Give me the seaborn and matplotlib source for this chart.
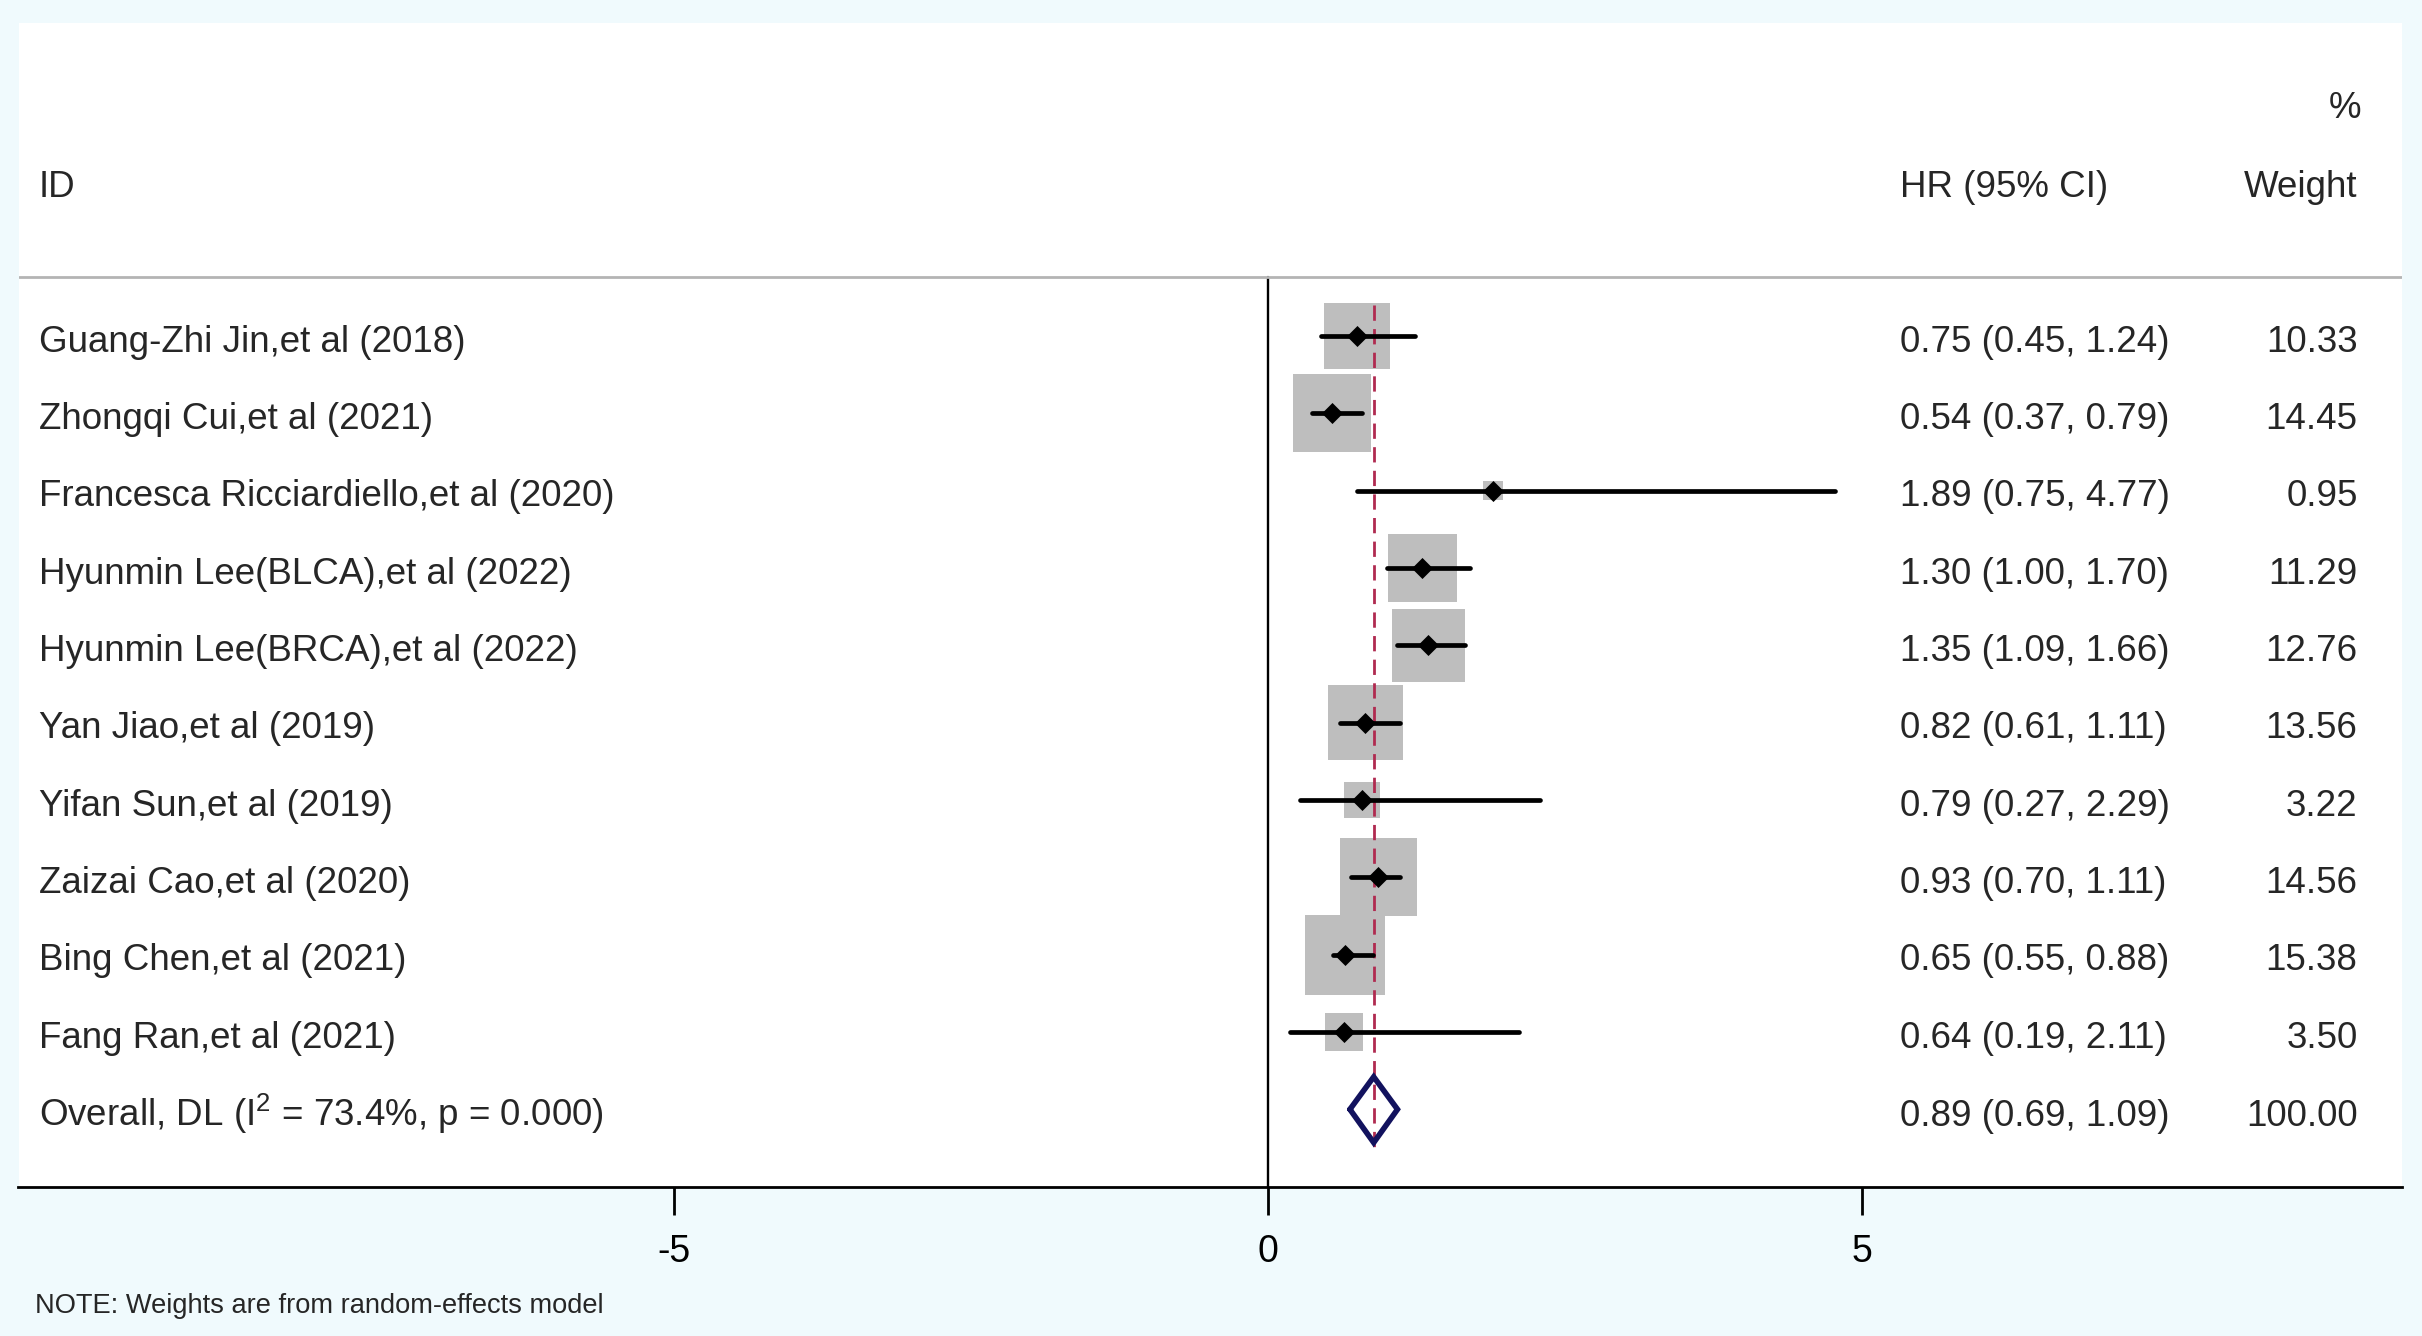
import matplotlib
matplotlib.use("Agg")
import matplotlib.pyplot as plt
import seaborn as sns
import pandas as pd

# ---------------- data ----------------
studies = [
    "Guang-Zhi Jin,et al (2018)",
    "Zhongqi Cui,et al (2021)",
    "Francesca Ricciardiello,et al (2020)",
    "Hyunmin Lee(BLCA),et al (2022)",
    "Hyunmin Lee(BRCA),et al (2022)",
    "Yan Jiao,et al (2019)",
    "Yifan Sun,et al (2019)",
    "Zaizai Cao,et al (2020)",
    "Bing Chen,et al (2021)",
    "Fang Ran,et al (2021)",
]
hr = [0.75, 0.54, 1.89, 1.30, 1.35, 0.82, 0.79, 0.93, 0.65, 0.64]
ci_low = [0.45, 0.37, 0.75, 1.00, 1.09, 0.61, 0.27, 0.70, 0.55, 0.19]
ci_high = [1.24, 0.79, 4.77, 1.70, 1.66, 1.11, 2.29, 1.11, 0.88, 2.11]
weights = [10.33, 14.45, 0.95, 11.29, 12.76, 13.56, 3.22, 14.56, 15.38, 3.50]

overall_label = "Overall, DL (I$^{2}$ = 73.4%, p = 0.000)"
overall_hr = 0.89
overall_low = 0.69
overall_high = 1.09
overall_weight = 100.00

header_id = "ID"
header_hr = "HR (95% CI)"
header_w1 = "%"
header_w2 = "Weight"
note_text = "NOTE: Weights are from random-effects model"
xtick_vals = [-5, 0, 5]
xtick_labels = ["-5", "0", "5"]

# ---------------- style ----------------
sns.set_theme(style="white")
plt.rcParams["font.family"] = ["Liberation Sans", "DejaVu Sans"]
plt.rcParams["mathtext.fontset"] = "custom"
plt.rcParams["mathtext.rm"] = "Liberation Sans"
plt.rcParams["mathtext.it"] = "Liberation Sans"
plt.rcParams["axes.unicode_minus"] = False

BG = "#F0FAFD"
BOX = "#BEBEBE"
DASH = "#B02A50"
NAVY = "#12125E"
FS = 26.5

W, H = 2422, 1336
fig = plt.figure(figsize=(W / 100, H / 100), dpi=100)
fig.patch.set_facecolor(BG)
left, right, top, bottom = 18.5, 2402, 23.3, 1186.7
ax = fig.add_axes([left / W, 1 - bottom / H, (right - left) / W, (bottom - top) / H])
ax.set_facecolor("white")

n = len(studies)
rows = list(range(1, n + 1))
overall_row = n + 1
df = pd.DataFrame({"study": studies, "hr": hr, "lo": ci_low, "hi": ci_high,
                   "weight": weights, "row": rows})

# weight boxes (area proportional to weight)
k = 216.0
wmin, wmax = min(weights), max(weights)
sns.scatterplot(data=df, x="hr", y="row", size="weight",
                sizes=(k * wmin, k * wmax), size_norm=(wmin, wmax),
                marker="s", color=BOX, linewidth=0, legend=False, ax=ax, zorder=1)

# pooled estimate dashed line
ax.plot([overall_hr, overall_hr], [0.60, 11.53], color=DASH, lw=2.0,
        dashes=(5.5, 3.0), zorder=2)

# CI lines
lc = ax.hlines(df["row"], df["lo"], df["hi"], color="black", lw=3.4, zorder=3)
lc.set_capstyle("round")

# point estimates
sns.scatterplot(data=df, x="hr", y="row", marker="D", s=115, color="black",
                linewidth=0, legend=False, ax=ax, zorder=4)

# overall diamond
dx = [overall_low, overall_hr, overall_high, overall_hr, overall_low]
dy = [overall_row, overall_row - 0.42, overall_row, overall_row + 0.43, overall_row]
ax.plot(dx, dy, color=NAVY, lw=4.0, solid_joinstyle="miter", zorder=5)

# zero line and header separator
ax.plot([0, 0], [0.245, 12.0], color="black", lw=1.7, zorder=2, clip_on=False)
ax.axhline(0.245, color="#B4B4B4", lw=2.0, zorder=2)

# ---------------- text columns ----------------
x_id, x_hr, x_w = -10.34, 5.318, 9.166
off = 0.205
for r, s, e, lo, hi, w in zip(rows, studies, hr, ci_low, ci_high, weights):
    ax.text(x_id, r + off, s, ha="left", va="baseline", fontsize=FS)
    ax.text(x_hr, r + off, f"{e:.2f} ({lo:.2f}, {hi:.2f})", ha="left", va="baseline", fontsize=FS)
    ax.text(x_w, r + off, f"{w:.2f}", ha="right", va="baseline", fontsize=FS)

ax.text(x_id, overall_row + 0.21, overall_label, ha="left", va="baseline", fontsize=FS)
ax.text(x_hr, overall_row + 0.21,
        f"{overall_hr:.2f} ({overall_low:.2f}, {overall_high:.2f})",
        ha="left", va="baseline", fontsize=FS)
ax.text(x_w, overall_row + 0.21, f"{overall_weight:.2f}", ha="right", va="baseline", fontsize=FS)

ax.text(x_id, -0.80, header_id, ha="left", va="baseline", fontsize=FS)
ax.text(x_hr, -0.80, header_hr, ha="left", va="baseline", fontsize=FS)
ax.text(x_w, -0.80, header_w2, ha="right", va="baseline", fontsize=FS)
ax.text(x_w + 0.03, -1.82, header_w1, ha="right", va="baseline", fontsize=FS)

fig.text(34.8 / W, 1 - 1313 / H, note_text, ha="left", va="baseline", fontsize=19.6)

# ---------------- axes ----------------
ax.set_xlim(-10.51, 9.54)
ax.set_ylim(12.0, -3.04)
ax.set_xticks(xtick_vals)
ax.set_xticklabels(xtick_labels)
ax.set_yticks([])
ax.set_xlabel("")
ax.set_ylabel("")
for sp in ["top", "left", "right"]:
    ax.spines[sp].set_visible(False)
ax.spines["bottom"].set_color("black")
ax.spines["bottom"].set_linewidth(2.0)
ax.tick_params(axis="x", bottom=True, length=20, width=2.0, direction="out",
               color="black", labelsize=27, pad=14, labelcolor="black")

fig.savefig("out.png", dpi=100, facecolor=BG)
